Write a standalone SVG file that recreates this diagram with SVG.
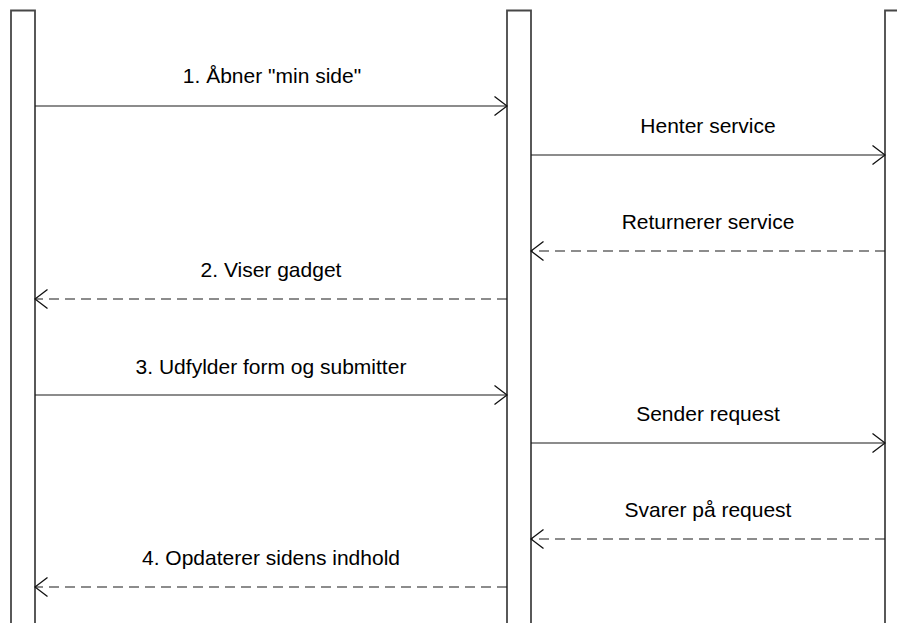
<svg xmlns="http://www.w3.org/2000/svg" width="897" height="623" viewBox="0 0 897 623">
  <style>
    .life { fill: #ffffff; stroke: #474747; stroke-width: 1.8; }
    .msg { fill: none; stroke: #1a1a1a; stroke-width: 1.2; }
    .ret { stroke-dasharray: 10 6; }
    .lbl { font-family: "Liberation Sans", Arial, sans-serif; font-size: 21px; fill: #000000; text-anchor: middle; }
  </style>
  <defs>
    <marker id="open" viewBox="0 0 14 20" refX="13" refY="10" markerWidth="14" markerHeight="20" markerUnits="userSpaceOnUse" orient="auto">
      <path d="M0.5,0.5 L13,10 L0.5,19.5" fill="none" stroke="#111111" stroke-width="1.3"/>
    </marker>
  </defs>

  <!-- lifelines -->
  <g id="browser">
    <path class="life" d="M11,640 L11,10.5 L35,10.5 L35,640"/>
  </g>
  <g id="portal">
    <path class="life" d="M507,640 L507,10.5 L531,10.5 L531,640"/>
  </g>
  <g id="service">
    <path class="life" d="M885,640 L885,10.5 L910,10.5"/>
  </g>

  <!-- messages -->
  <g id="connectors">
    <line class="msg" x1="35" y1="106" x2="507" y2="106" marker-end="url(#open)"/>
    <line class="msg" x1="531" y1="155" x2="885" y2="155" marker-end="url(#open)"/>
    <line class="msg ret" x1="885" y1="251" x2="531" y2="251" marker-end="url(#open)"/>
    <line class="msg ret" x1="507" y1="299" x2="35" y2="299" marker-end="url(#open)"/>
    <line class="msg" x1="35" y1="395" x2="507" y2="395" marker-end="url(#open)"/>
    <line class="msg" x1="531" y1="443" x2="885" y2="443" marker-end="url(#open)"/>
    <line class="msg ret" x1="885" y1="539" x2="531" y2="539" marker-end="url(#open)"/>
    <line class="msg ret" x1="507" y1="587" x2="35" y2="587" marker-end="url(#open)"/>
  </g>

  <!-- labels -->
  <g id="labels">
    <text class="lbl" x="272" y="83">1. Åbner "min side"</text>
    <text class="lbl" x="708" y="133">Henter service</text>
    <text class="lbl" x="708" y="229">Returnerer service</text>
    <text class="lbl" x="271" y="277">2. Viser gadget</text>
    <text class="lbl" x="271" y="374">3. Udfylder form og submitter</text>
    <text class="lbl" x="708" y="421">Sender request</text>
    <text class="lbl" x="708" y="517">Svarer på request</text>
    <text class="lbl" x="271" y="565">4. Opdaterer sidens indhold</text>
  </g>
</svg>
